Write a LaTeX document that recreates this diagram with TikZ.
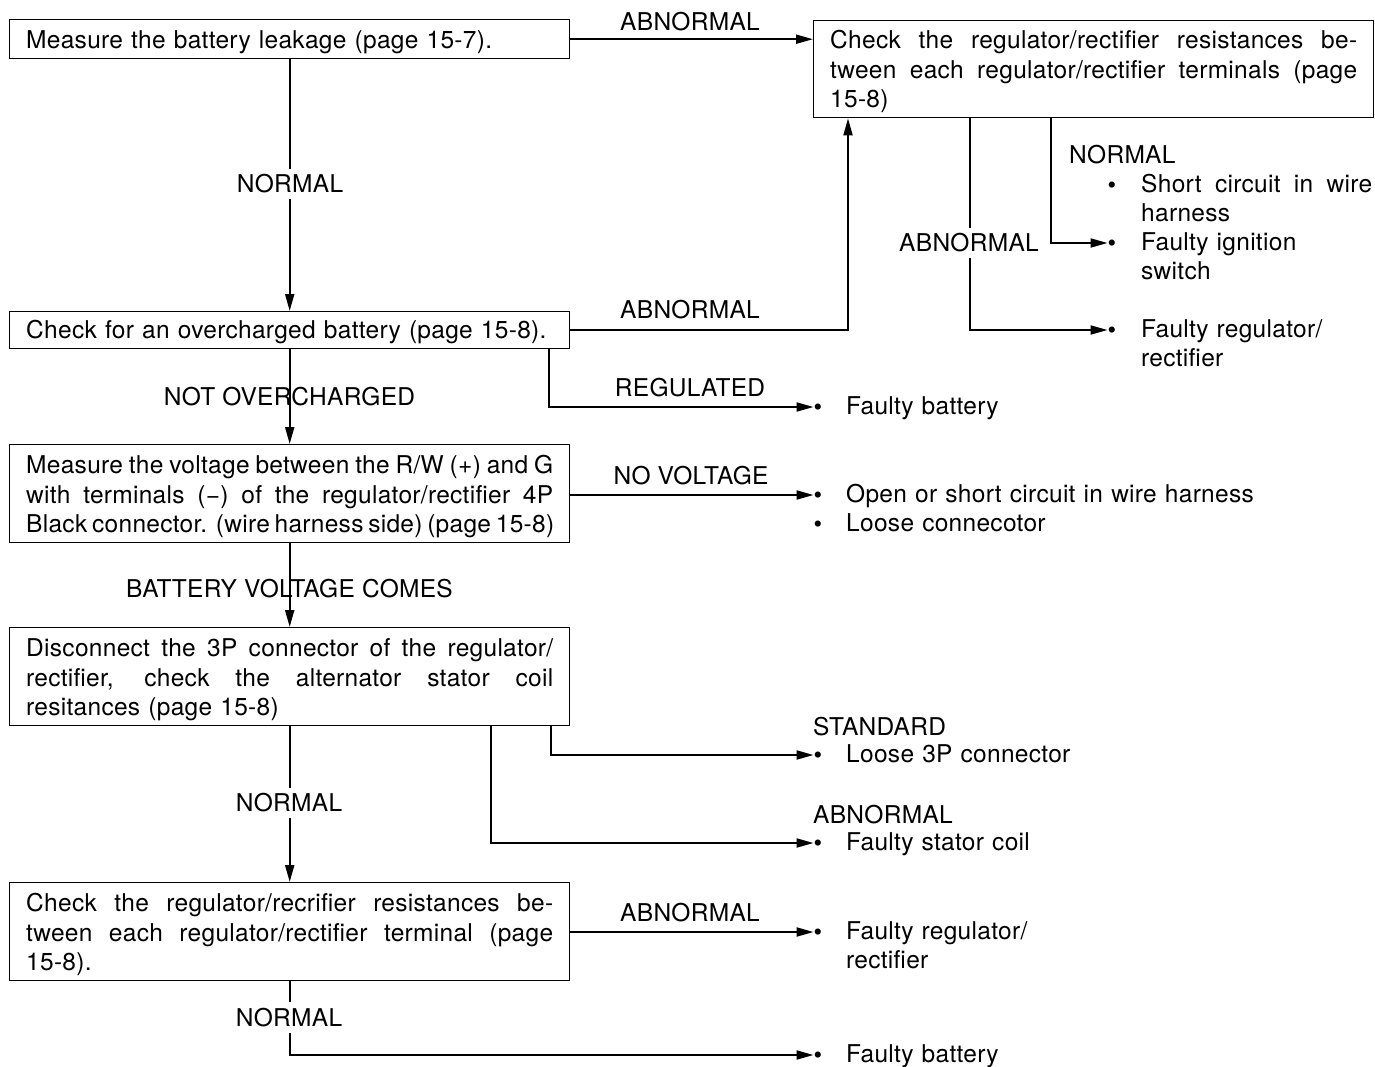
\documentclass[tikz,border=0pt]{standalone}
\usepackage{fontspec}
\setmainfont{TeX Gyre Heros}[LetterSpace=1.2]
\usetikzlibrary{arrows.meta,calc}
\setlength{\parindent}{0pt}
\newcommand{\ffont}{\fontsize{24.5}{29.5}\selectfont}
\newcommand{\jline}[2][527pt]{\makebox[#1][s]{\spaceskip=0pt\xspaceskip=0pt #2}}
\newcommand{\topr}[1]{\rule{0pt}{#1}}
\newcommand{\botr}{\rule[-10pt]{0pt}{10pt}}
\begin{document}
\begin{tikzpicture}[x=1pt,y=-1pt,
  box/.style={draw, line width=1.4pt, anchor=north west, inner xsep=16.5pt, inner ysep=0pt, text width=527pt, align=left, font=\ffont},
  ln/.style={line width=2pt},
  arr/.style={ln, -{Triangle[length=17pt,width=9pt]}},
  lab/.style={font=\ffont, inner sep=0pt},
  labw/.style={lab, fill=white, inner xsep=4pt, inner ysep=6pt},
  bul/.style={font=\ffont, inner sep=0pt, text height=17.4pt, text depth=0pt},
  itm/.style={font=\ffont, inner sep=0pt, anchor=north west, text width=#1, align=left, execute at begin node=\rule{0pt}{20.65pt}},
  itm/.default=520pt]
\useasboundingbox (0,0) rectangle (1375,1067);

% boxes
\node[box] (b1) at (9,19) {\topr{29pt}Measure the battery leakage (page 15-7).\botr};
\node[box] (b2) at (813,20) {\topr{28pt}\jline{Check the regulator/rectifier resistances be-}\\\jline{tween each regulator/rectifier terminals (page}\\15-8)\botr};
\node[box] (ovc) at (9,311) {\topr{27pt}Check for an overcharged battery (page 15-8).\botr};
\node[box] (b3) at (9,444) {\topr{29pt}\jline{Measure the voltage between the R/W (+) and G}\\\jline{with terminals (−) of the regulator/rectifier 4P}\\\jline{Black connector. (wire harness side) (page 15-8)}\botr};
\node[box] (b4) at (9,627) {\topr{29pt}\jline{Disconnect the 3P connector of the regulator/}\\\jline{rectifier, check the alternator stator coil}\\resitances (page 15-8)\botr};
\node[box] (b5) at (9,882) {\topr{29pt}\jline{Check the regulator/recrifier resistances be-}\\\jline{tween each regulator/rectifier terminal (page}\\15-8).\botr};

% result bullets and texts
\node[bul] (r1) at (1112,185) {\textbullet};
\node[itm=240pt] (tr1) at (1141,171.35) {\jline[231pt]{Short circuit in wire}\\harness};
\node[bul] (r2) at (1112,243) {\textbullet};
\node[itm=240pt] (tr2) at (1141,229.35) {Faulty ignition\\switch};
\node[bul] (r3) at (1112,330) {\textbullet};
\node[itm=240pt] (tr3) at (1141,316.35) {Faulty regulator/\\rectifier};

\node[bul] (l1) at (818,407) {\textbullet};
\node[itm] (tl1) at (846,393.35) {Faulty battery};
\node[bul] (l2) at (818,495) {\textbullet};
\node[itm] (tl2) at (846,481.35) {Open or short circuit in wire harness};
\node[bul] (l3) at (818,524) {\textbullet};
\node[itm] (tl3) at (846,510.35) {Loose connecotor};
\node[bul] (l4) at (818,755) {\textbullet};
\node[itm] (tl4) at (846,741.35) {Loose 3P connector};
\node[bul] (l5) at (818,843) {\textbullet};
\node[itm] (tl5) at (846,829.35) {Faulty stator coil};
\node[bul] (l6) at (818,932) {\textbullet};
\node[itm] (tl6) at (846,918.35) {Faulty regulator/\\rectifier};
\node[bul] (l7) at (818,1055) {\textbullet};
\node[itm] (tl7) at (846,1041.35) {Faulty battery};

% connectors
\draw[arr] (b1.east) -- (b1.east -| b2.west);
\draw[arr] (b1.south) -- (ovc.north);
\draw[arr] (ovc.east) -| ($(b2.south west)+(35,0)$);
\draw[arr] ($(b2.south west)+(238,0)$) |- (r2.west);
\draw[arr] ($(b2.south west)+(157,0)$) |- (r3.west);
\draw[arr] ($(ovc.south east)+(-21,0)$) |- (l1.west);
\draw[arr] (ovc.south) -- (b3.north);
\draw[arr] (b3.east |- l2.west) -- (l2.west);
\draw[arr] (b3.south) -- (b4.north);
\draw[arr] ($(b4.south east)+(-19,0)$) |- (l4.west);
\draw[arr] ($(b4.south east)+(-79,0)$) |- (l5.west);
\draw[arr] (b4.south) -- (b5.north);
\draw[arr] (b5.east |- l6.west) -- (l6.west);
\draw[arr] (b5.south) |- (l7.west);

% labels
\node[lab] (la1) at (690,22) {ABNORMAL};
\node[lab] (la2) at (690,310) {ABNORMAL};
\node[lab] (la3) at (690,387.5) {REGULATED};
\node[lab] (la4) at (691,475.5) {NO VOLTAGE};
\node[lab] (la5) at (690,912.5) {ABNORMAL};
\node[lab, anchor=west] (la6) at (813,727) {STANDARD};
\node[lab, anchor=west] (la7) at (813,815) {ABNORMAL};
\node[lab, anchor=west] (la8) at (1069,155) {NORMAL};
\node[labw] (la9) at (969,243) {ABNORMAL};
\node[labw] (ln1) at (290,184) {NORMAL};
\node[lab] (ln2) at (289.5,396.5) {NOT OVERCHARGED};
\node[lab] (ln3) at (289.5,588.5) {BATTERY VOLTAGE COMES};
\node[labw] (ln4) at (289,803) {NORMAL};
\node[labw] (ln5) at (289,1017.5) {NORMAL};
\end{tikzpicture}
\end{document}
